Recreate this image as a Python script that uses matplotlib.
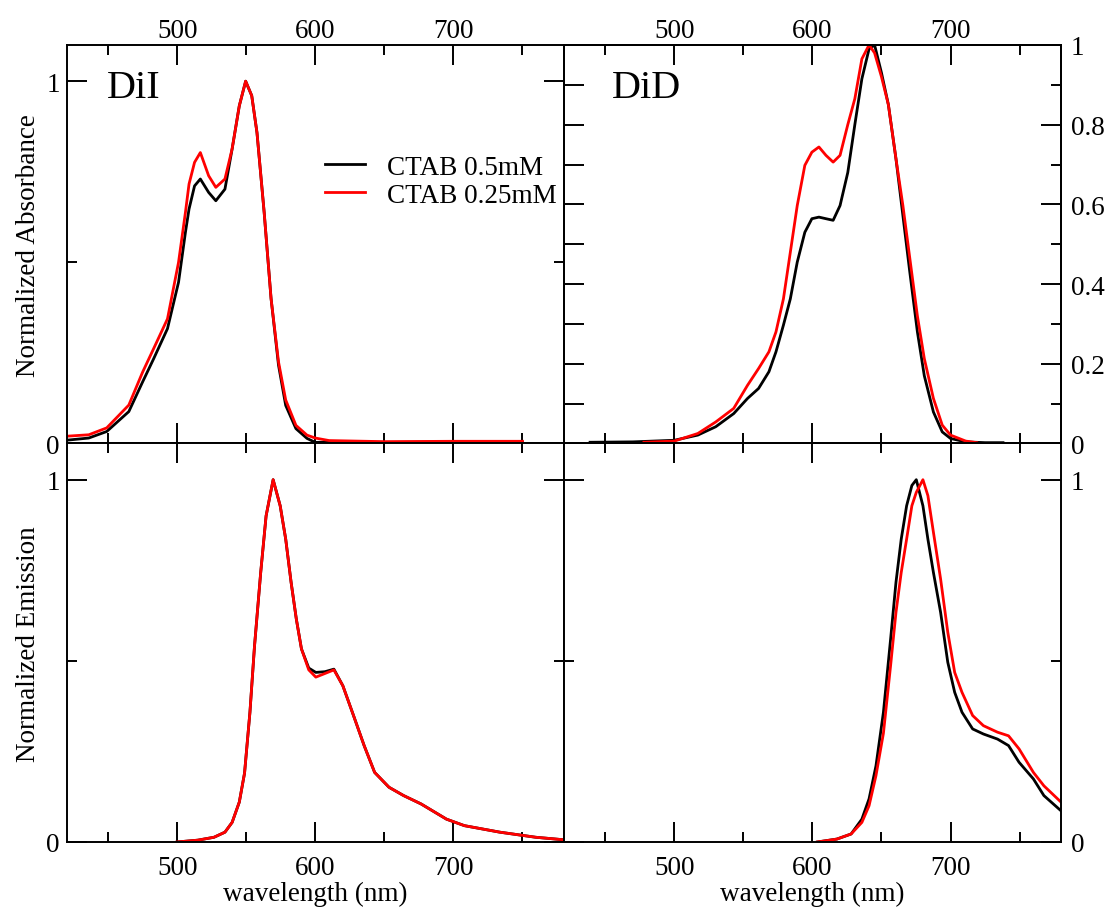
import matplotlib
matplotlib.use("Agg")
import matplotlib.pyplot as plt
from matplotlib.ticker import MultipleLocator

plt.rcParams['font.family'] = ['Liberation Serif', 'DejaVu Serif']
plt.rcParams['font.size'] = 19.5

# ---------------- data ----------------
# DiI absorbance
dii_abs_wl_k = [420, 436, 449, 465, 475, 483, 493, 501, 506, 508.6, 512.6, 516.8,
                522.8, 528, 534.6, 539.8, 545, 549.6, 554, 557.8, 563, 568, 573.4,
                578.6, 586, 594, 600, 620, 650, 700, 750]
dii_abs_k = [0.009, 0.015, 0.033, 0.088, 0.17, 0.234, 0.317, 0.445, 0.583, 0.647,
             0.711, 0.730, 0.693, 0.670, 0.702, 0.813, 0.932, 1.0, 0.96, 0.858,
             0.638, 0.40, 0.216, 0.105, 0.041, 0.014, 0.003, 0.004, 0.003, 0.004, 0.004]
dii_abs_wl_r = [420, 436, 449, 465, 475, 483, 493, 501, 506, 508.6, 512.6, 516.8,
                522.8, 528, 534.6, 539.8, 545, 549.6, 554, 557.8, 563, 568, 573.4,
                578.6, 586, 594, 600, 610, 650, 700, 750]
dii_abs_r = [0.02, 0.024, 0.043, 0.106, 0.197, 0.262, 0.344, 0.50, 0.638, 0.716,
             0.776, 0.803, 0.739, 0.707, 0.730, 0.813, 0.932, 1.0, 0.96, 0.858,
             0.638, 0.40, 0.225, 0.12, 0.05, 0.023, 0.015, 0.008, 0.005, 0.006, 0.006]

# DiD absorbance
did_abs_wl_k = [439, 470, 500, 517, 530, 543, 553, 561, 568.5, 573.6, 579, 584, 589,
                594.5, 599.6, 604.7, 609.8, 615, 620, 625.6, 630.7, 635.8, 641, 645,
                650, 655, 660.5, 665.5, 670.5, 676, 681, 687.6, 694, 700, 711, 725, 738]
did_abs_k = [0.003, 0.004, 0.008, 0.021, 0.042, 0.075, 0.113, 0.138, 0.18, 0.23, 0.297,
             0.363, 0.455, 0.53, 0.564, 0.568, 0.564, 0.56, 0.597, 0.68, 0.80, 0.915,
             0.99, 1.0, 0.93, 0.85, 0.714, 0.572, 0.43, 0.28, 0.17, 0.079, 0.029,
             0.0125, 0.004, 0.002, 0.002]
did_abs_wl_r = [478, 500, 517, 530, 543, 553, 561, 568.5, 573.6, 579, 584, 589, 594.5,
                599.6, 604.7, 609.8, 615, 620, 625.6, 630.7, 635.8, 641, 645, 650, 655,
                660.5, 665.5, 670.5, 676, 681, 687.6, 694, 700, 711, 719]
did_abs_r = [0.003, 0.006, 0.025, 0.054, 0.088, 0.146, 0.188, 0.23, 0.28, 0.363, 0.48,
             0.597, 0.698, 0.731, 0.744, 0.723, 0.706, 0.723, 0.80, 0.865, 0.965, 1.0,
             0.98, 0.92, 0.85, 0.714, 0.597, 0.465, 0.32, 0.213, 0.113, 0.046, 0.021,
             0.006, 0.002]

# DiI emission
dii_em_wl = [500, 515, 526.7, 534.6, 539.8, 545, 548.8, 552.7, 556, 560.5, 564.4, 569.5,
             574.6, 578.6, 582.5, 586.3, 590, 595.3, 600.4, 607, 613.5, 620, 627.7,
             635.4, 643, 653.4, 664, 676.6, 695, 708, 733.7, 759.6, 780]
dii_em_k = [0, 0.005, 0.013, 0.027, 0.054, 0.11, 0.19, 0.358, 0.54, 0.744, 0.90, 1.0,
            0.928, 0.836, 0.717, 0.615, 0.533, 0.48, 0.468, 0.47, 0.477, 0.431, 0.349,
            0.266, 0.192, 0.151, 0.128, 0.105, 0.063, 0.045, 0.027, 0.013, 0.006]
dii_em_r = [0, 0.005, 0.013, 0.027, 0.054, 0.11, 0.19, 0.358, 0.54, 0.744, 0.90, 1.0,
            0.928, 0.836, 0.717, 0.615, 0.533, 0.475, 0.455, 0.465, 0.475, 0.431, 0.349,
            0.266, 0.192, 0.151, 0.128, 0.105, 0.063, 0.045, 0.027, 0.013, 0.006]

# DiD emission
did_em_wl = [603.6, 617.7, 628, 635.8, 641, 646, 651.4, 656.6, 660.5, 664.3, 668.2, 672,
             675.2, 680, 683.6, 687.6, 692.8, 698, 703, 708.3, 716, 723.8, 734, 742,
             749.6, 760, 767.6, 780]
did_em_k = [0, 0.008, 0.022, 0.063, 0.119, 0.21, 0.358, 0.56, 0.717, 0.836, 0.928, 0.984,
            1.0, 0.928, 0.836, 0.744, 0.634, 0.496, 0.413, 0.358, 0.312, 0.298, 0.284,
            0.266, 0.22, 0.174, 0.128, 0.086]
did_em_r = [0, 0.008, 0.022, 0.054, 0.10, 0.183, 0.30, 0.487, 0.634, 0.744, 0.836, 0.928,
            0.965, 1.0, 0.956, 0.855, 0.726, 0.579, 0.468, 0.413, 0.349, 0.321, 0.303,
            0.293, 0.257, 0.192, 0.155, 0.11]

labels = ["CTAB 0.5mM", "CTAB 0.25mM"]
LW = 2.0
MAJ, MIN = 14.4, 7.2


def style(ax, ymaj, ymin, ylim):
    ax.set_xlim(420, 780)
    ax.set_ylim(*ylim)
    ax.xaxis.set_major_locator(MultipleLocator(100))
    ax.xaxis.set_minor_locator(MultipleLocator(50))
    ax.yaxis.set_major_locator(MultipleLocator(ymaj))
    ax.yaxis.set_minor_locator(MultipleLocator(ymin))
    ax.tick_params(which='both', direction='in', top=True, bottom=True,
                   left=True, right=True, width=1.4)
    ax.tick_params(which='major', length=MAJ)
    ax.tick_params(which='minor', length=MIN)
    for s in ax.spines.values():
        s.set_linewidth(1.4)


fig = plt.figure(figsize=(11.13, 9.12), dpi=100)
gs = fig.add_gridspec(2, 2, left=0.0599, right=0.9533, top=0.9496,
                      bottom=0.0757, hspace=0, wspace=0)
ax1 = fig.add_subplot(gs[0, 0])
ax2 = fig.add_subplot(gs[0, 1])
ax3 = fig.add_subplot(gs[1, 0])
ax4 = fig.add_subplot(gs[1, 1])

# top-left: DiI absorbance
ax1.plot(dii_abs_wl_k, dii_abs_k, color='black', lw=LW, label=labels[0])
ax1.plot(dii_abs_wl_r, dii_abs_r, color='red', lw=LW, label=labels[1])
style(ax1, 1, 0.5, (0, 1.1))
ax1.yaxis.set_major_formatter(lambda v, p: f"{v:g}")
ax1.tick_params(axis='x', labeltop=True, labelbottom=False, pad=1.5)
ax1.tick_params(axis='y', labelleft=True, pad=5)
ax1.set_ylabel("Normalized Absorbance")
ax1.yaxis.set_label_coords(-0.052, 0.5)
ax1.text(0.081, 0.87, "DiI", transform=ax1.transAxes, fontsize=29, va='baseline')
ax1.legend(loc='upper left', bbox_to_anchor=(0.519, 0.725), frameon=False,
           borderpad=0, borderaxespad=0, handlelength=1.5, handletextpad=0.8,
           labelspacing=0.12, fontsize=19.5)

# top-right: DiD absorbance
ax2.plot(did_abs_wl_k, did_abs_k, color='black', lw=LW)
ax2.plot(did_abs_wl_r, did_abs_r, color='red', lw=LW)
style(ax2, 0.1, 0.1, (0, 1.0))
ax2.tick_params(axis='y', right=False, labelleft=False)
ax2.tick_params(axis='x', labeltop=True, labelbottom=False, pad=1.5)
ax2.text(0.097, 0.87, "DiD", transform=ax2.transAxes, fontsize=29, va='baseline')
tw = ax2.twinx()
tw.set_ylim(0, 1.0)
tw.yaxis.set_major_locator(MultipleLocator(0.2))
tw.yaxis.set_minor_locator(MultipleLocator(0.1))
tw.yaxis.set_major_formatter(lambda v, p: f"{v:g}")
tw.tick_params(which='both', direction='in', width=1.4, pad=7)
tw.tick_params(which='major', length=MAJ)
tw.tick_params(which='minor', length=MIN)
for s in tw.spines.values():
    s.set_linewidth(1.4)

# bottom-left: DiI emission
ax3.plot(dii_em_wl, dii_em_k, color='black', lw=LW)
ax3.plot(dii_em_wl, dii_em_r, color='red', lw=LW)
style(ax3, 1, 0.5, (0, 1.1))
ax3.yaxis.set_major_formatter(lambda v, p: f"{v:g}")
ax3.tick_params(axis='x', labelbottom=True, pad=9.5)
ax3.tick_params(axis='y', pad=5)
ax3.set_ylabel("Normalized Emission")
ax3.yaxis.set_label_coords(-0.052, 0.5)
ax3.set_xlabel("wavelength (nm)")
ax3.xaxis.set_label_coords(0.5, -0.098)

# bottom-right: DiD emission
ax4.plot(did_em_wl, did_em_k, color='black', lw=LW)
ax4.plot(did_em_wl, did_em_r, color='red', lw=LW)
style(ax4, 1, 0.5, (0, 1.1))
ax4.yaxis.set_major_formatter(lambda v, p: f"{v:g}")
ax4.tick_params(axis='y', labelleft=False, labelright=True, pad=7)
ax4.tick_params(axis='x', labelbottom=True, pad=9.5)
ax4.set_xlabel("wavelength (nm)")
ax4.xaxis.set_label_coords(0.5, -0.098)

plt.savefig("out.png", dpi=100)
